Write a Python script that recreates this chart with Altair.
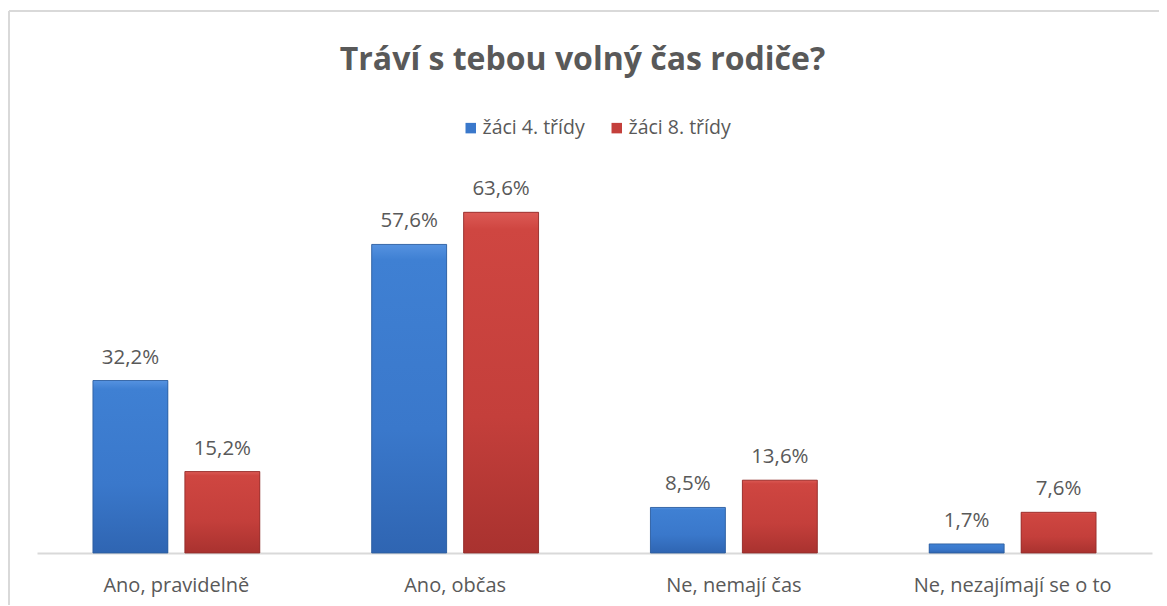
import altair as alt
import pandas as pd

categories = ["Ano, pravidelně", "Ano, občas", "Ne, nemají čas", "Ne, nezajímají se o to"]
series_names = ["žáci 4. třídy", "žáci 8. třídy"]
values_4 = [32.2, 57.6, 8.5, 1.7]
values_8 = [15.2, 63.6, 13.6, 7.6]

rows = []
for i, c in enumerate(categories):
    rows.append({"cat": c, "series": series_names[0], "value": values_4[i]})
    rows.append({"cat": c, "series": series_names[1], "value": values_8[i]})
df = pd.DataFrame(rows)

FONT = "Open Sans"
TXT = "#595959"

blue_grad = alt.LinearGradient(
    gradient="linear", x1=0, y1=0, x2=0, y2=1,
    stops=[alt.GradientStop(color="#5592e0", offset=0),
           alt.GradientStop(color="#3f80d3", offset=0.05),
           alt.GradientStop(color="#3a78cb", offset=0.6),
           alt.GradientStop(color="#2f65b2", offset=1)])
red_grad = alt.LinearGradient(
    gradient="linear", x1=0, y1=0, x2=0, y2=1,
    stops=[alt.GradientStop(color="#dc5a55", offset=0),
           alt.GradientStop(color="#cf4641", offset=0.05),
           alt.GradientStop(color="#c43f3b", offset=0.6),
           alt.GradientStop(color="#a9322f", offset=1)])

x_enc = alt.X("cat:N", sort=categories,
              scale=alt.Scale(paddingInner=0.4014, paddingOuter=0.2007),
              axis=alt.Axis(title=None, labelAngle=0, ticks=False, domain=True,
                            domainColor="#d9d9d9", domainWidth=2, grid=False,
                            labelFont=FONT, labelFontSize=20, labelColor=TXT,
                            labelLimit=400,
                            labelBaseline="alphabetic", labelPadding=38))
xo_enc = alt.XOffset("series:N", sort=series_names,
                     scale=alt.Scale(paddingInner=0.185, paddingOuter=0))
y_enc = alt.Y("value:Q", scale=alt.Scale(domain=[0, 70], nice=False), axis=None)

base = alt.Chart(df).encode(x=x_enc, xOffset=xo_enc, y=y_enc)

bars_legend = base.mark_bar().encode(
    color=alt.Color("series:N", sort=series_names,
                    scale=alt.Scale(domain=series_names, range=["#3a78cb", "#c43f3b"]),
                    legend=alt.Legend(title=None, orient="none", direction="horizontal",
                                      legendX=424, legendY=-60,
                                      symbolType="square", symbolSize=110,
                                      symbolStrokeWidth=0,
                                      labelFont=FONT, labelFontSize=19.5, labelColor=TXT,
                                      labelOffset=2, columnPadding=22))
)

bars_grad = base.mark_bar(strokeWidth=0.8).encode(
    fill=alt.condition(alt.datum.series == series_names[0],
                       alt.value(blue_grad), alt.value(red_grad)),
    stroke=alt.condition(alt.datum.series == series_names[0],
                         alt.value("#2b5a9a"), alt.value("#8e2b28")),
)

labels = base.transform_calculate(
    lab="replace(format(datum.value / 100, '.1%'), '.', ',')"
).mark_text(baseline="alphabetic", dy=-17, font=FONT, fontSize=20.5, color=TXT).encode(
    text="lab:N")

frame_df = pd.DataFrame({"k": [0]})
frame_top = alt.Chart(frame_df).mark_rule(color="#d9d9d9", strokeWidth=2).encode(
    x=alt.value(-28), x2=alt.value(1140), y=alt.value(-167))
frame_left = alt.Chart(frame_df).mark_rule(color="#d9d9d9", strokeWidth=2).encode(
    x=alt.value(-28), y=alt.value(-167), y2=alt.value(440))

chart = alt.layer(frame_top, frame_left, bars_legend, bars_grad, labels).properties(
    width=1115, height=375,
    autosize=alt.AutoSizeParams(type="none"),
    padding={"left": 29, "top": 170, "right": 7, "bottom": 52},
    title=alt.TitleParams("Tráví s tebou volný čas rodiče?", font=FONT, fontSize=32,
                          fontWeight="bold", color=TXT, anchor="middle", frame="group",
                          baseline="alphabetic", offset=-92, dx=-12),
).configure(background="white", view=alt.ViewConfig(strokeWidth=0, stroke="transparent"))

chart.save("out.html", embed_options={"renderer": "svg", "actions": False})
